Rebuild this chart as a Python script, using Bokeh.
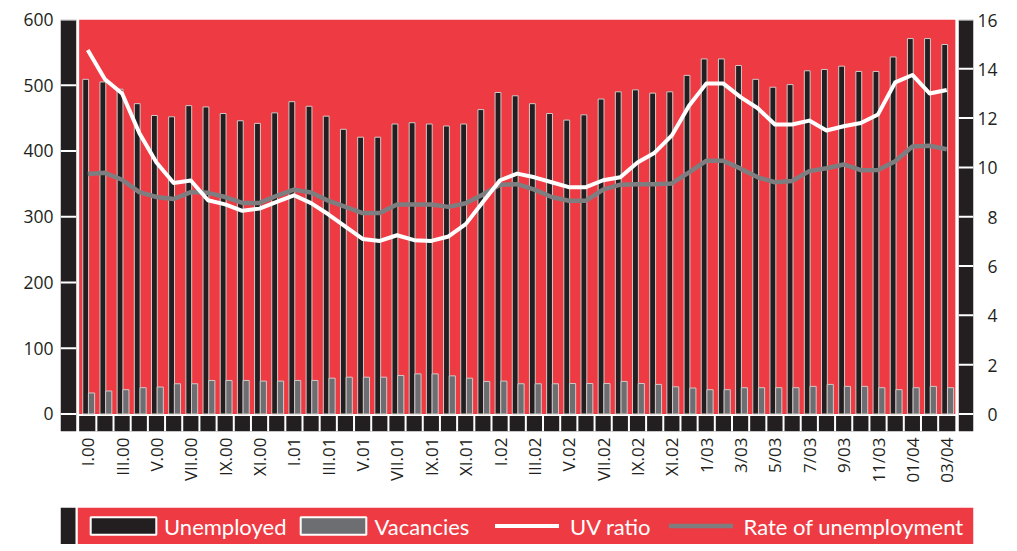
import math
from bokeh.plotting import figure
from bokeh.models import Range1d, LinearAxis, FixedTicker, Legend, LegendItem
from bokeh.layouts import column
from bokeh.embed import file_html
from bokeh.resources import INLINE

# ---------------- data ----------------
months = list(range(51))  # Jan 2000 .. Mar 2004
tick_labels = ["I.00", "III.00", "V.00", "VII.00", "IX.00", "XI.00",
               "I.01", "III.01", "V.01", "VII.01", "IX.01", "XI.01",
               "I.02", "III.02", "V.02", "VII.02", "IX.02", "XI.02",
               "1/03", "3/03", "5/03", "7/03", "9/03", "11/03", "01/04", "03/04"]

unemployed = [509, 505, 494, 472, 454, 452, 469, 467, 457, 446, 442, 458,
              475, 468, 453, 433, 421, 421, 441, 443, 441, 438, 441, 463,
              489, 484, 472, 457, 447, 455, 479, 490, 493, 488, 490, 515,
              540, 540, 530, 509, 497, 501, 522, 524, 529, 521, 521, 543,
              571, 571, 562]
vacancies = [32, 35, 37, 40, 41, 46, 46, 51, 51, 51, 50, 50,
             51, 51, 54.5, 56, 56, 56, 58.6, 61, 61, 58, 54.5, 49.5,
             50, 46, 46, 46, 46.4, 46.4, 46.4, 49.5, 46.4, 45, 41.4, 39.5,
             37, 37, 40, 40, 40, 40, 42, 45, 42, 42, 40, 37,
             40, 42, 40]
uv_ratio = [14.76, 13.58, 13.0, 11.4, 10.2, 9.37, 9.47, 8.67, 8.5, 8.24, 8.33, 8.6,
            8.87, 8.55, 8.1, 7.6, 7.1, 7.02, 7.25, 7.05, 7.02, 7.2, 7.7, 8.6,
            9.48, 9.75, 9.6, 9.4, 9.2, 9.2, 9.48, 9.6, 10.2, 10.6, 11.3, 12.5,
            13.4, 13.4, 12.85, 12.4, 11.74, 11.74, 11.9, 11.5, 11.67, 11.8, 12.15, 13.45,
            13.75, 13.0, 13.14]
rate_unemp = [9.73, 9.78, 9.5, 9.0, 8.8, 8.72, 9.0, 8.97, 8.8, 8.56, 8.56, 8.85,
              9.1, 8.98, 8.65, 8.4, 8.15, 8.15, 8.5, 8.5, 8.5, 8.4, 8.55, 8.9,
              9.3, 9.32, 9.1, 8.8, 8.65, 8.65, 9.1, 9.3, 9.32, 9.32, 9.35, 9.8,
              10.27, 10.27, 9.95, 9.6, 9.4, 9.45, 9.85, 9.97, 10.12, 9.89, 9.9, 10.25,
              10.85, 10.88, 10.74]
left_ticks = [0, 100, 200, 300, 400, 500, 600]
right_ticks = [0, 2, 4, 6, 8, 10, 12, 14, 16]
legend_labels = ["Unemployed", "Vacancies", "UV ratio", "Rate of unemployment"]

# ---------------- style ----------------
RED = "#EE3B43"
DARK = "#231F20"
GRAYBAR = "#6D6E71"
GRAYLINE = "#7E7E80"
EDGE = "#D2C8C8"
FONT = "Open Sans"
LFONT = "Lato"
W = 1017

Y_TOP = 600
Y_BOT = -26.62
X_LO = -1.586
X_HI = 51.557
RATIO = 37.5
LB_R = -0.671     # right edge of left band
RB_L = 50.7       # left edge of right band
BB_T = -3.0       # top of bottom band

p = figure(width=W, height=507, x_range=Range1d(X_LO, X_HI), y_range=Range1d(Y_BOT, Y_TOP),
           toolbar_location=None, output_backend="svg",
           min_border_left=59, min_border_right=28, min_border_top=19, min_border_bottom=76,
           background_fill_color="white", border_fill_color="white")
p.outline_line_color = None
p.grid.visible = False
p.extra_y_ranges = {"rate": Range1d(Y_BOT / RATIO, Y_TOP / RATIO)}

n = len(months)
# frame decoration: red plot area and dark axis bands
p.quad(left=[-0.5], right=[n - 0.5], bottom=[0], top=[Y_TOP], fill_color=RED, line_color=None)
p.quad(left=[X_LO], right=[LB_R], bottom=[Y_BOT], top=[Y_TOP], fill_color=DARK, line_color=None)
p.quad(left=[RB_L], right=[X_HI], bottom=[Y_BOT], top=[Y_TOP], fill_color=DARK, line_color=None)
p.quad(left=[-0.5], right=[n - 0.5], bottom=[Y_BOT], top=[BB_T], fill_color=DARK, line_color=None)

# white tick marks across the bands
p.segment(x0=[X_LO] * len(left_ticks), x1=[LB_R] * len(left_ticks), y0=left_ticks, y1=left_ticks,
          line_color="white", line_width=2)
p.segment(x0=[RB_L] * len(right_ticks), x1=[X_HI] * len(right_ticks), y0=right_ticks, y1=right_ticks,
          line_color="white", line_width=2, y_range_name="rate")
bounds = [m + 0.5 for m in months[:-1]]
p.segment(x0=bounds, x1=bounds, y0=[Y_BOT] * len(bounds), y1=[BB_T] * len(bounds),
          line_color="white", line_width=2)

# bars
p.vbar(x=[m - 0.12 for m in months], width=0.34, bottom=0, top=unemployed,
       fill_color=DARK, line_color=EDGE, line_width=1)
p.vbar(x=[m + 0.22 for m in months], width=0.36, bottom=0, top=vacancies,
       fill_color=GRAYBAR, line_color=EDGE, line_width=1)

# lines
p.line(months, rate_unemp, y_range_name="rate", line_color=GRAYLINE, line_width=4.5, line_join="round")
p.line(months, uv_ratio, y_range_name="rate", line_color="white", line_width=4, line_join="round")

# x axis
xa = p.xaxis[0]
xa.ticker = FixedTicker(ticks=months[::2])
xa.major_label_overrides = {m: lab for m, lab in zip(months[::2], tick_labels)}
xa.major_label_orientation = math.pi / 2
xa.axis_line_color = None
xa.major_tick_line_color = None
xa.minor_tick_line_color = None
xa.major_tick_in = 0
xa.major_tick_out = 0
xa.major_label_standoff = 6
xa.major_label_text_font = FONT
xa.major_label_text_font_size = "17px"
xa.major_label_text_color = DARK

# left axis
ya = p.yaxis[0]
ya.ticker = FixedTicker(ticks=left_ticks)
ya.axis_line_color = None
ya.major_tick_line_color = None
ya.minor_tick_line_color = None
ya.major_tick_in = 0
ya.major_tick_out = 0
ya.major_label_standoff = 7
ya.major_label_text_font = FONT
ya.major_label_text_font_size = "17.5px"
ya.major_label_text_color = DARK

# right axis
ra = LinearAxis(y_range_name="rate", ticker=FixedTicker(ticks=right_ticks))
ra.major_label_overrides = {t: ("\u2007" + str(t) if t < 10 else str(t)) for t in right_ticks}
ra.axis_line_color = None
ra.major_tick_line_color = None
ra.minor_tick_line_color = None
ra.major_tick_in = 0
ra.major_tick_out = 0
ra.major_label_standoff = 4
ra.major_label_text_font = FONT
ra.major_label_text_font_size = "17.5px"
ra.major_label_text_color = DARK
p.add_layout(ra, "right")

# ---------------- legend strip ----------------
LW = 913
lg = figure(width=W, height=37, x_range=Range1d(0, LW), y_range=Range1d(0, 37),
            x_axis_location=None, y_axis_location=None, toolbar_location=None,
            output_backend="svg", min_border_left=60, min_border_right=W - 60 - LW,
            min_border_top=0, min_border_bottom=0,
            background_fill_color="white", border_fill_color="white")
lg.outline_line_color = None
lg.grid.visible = False
lg.quad(left=[0], right=[15], bottom=[0], top=[37], fill_color=DARK, line_color=None)
lg.quad(left=[17.3], right=[LW], bottom=[0], top=[37], fill_color=RED, line_color=None)

# legend proxies (placed outside the visible range)
r_u = lg.quad(left=[-60], right=[-50], bottom=[0], top=[1], fill_color=DARK, line_color="white", line_width=2)
r_v = lg.quad(left=[-60], right=[-50], bottom=[0], top=[1], fill_color=GRAYBAR, line_color="white", line_width=2)
r_uv = lg.line(x=[-60, -50], y=[0, 0], line_color="white", line_width=4, line_cap="round")
r_rt = lg.line(x=[-60, -50], y=[0, 0], line_color=GRAYLINE, line_width=4.5, line_cap="round")

common = dict(orientation="horizontal", location="center_left", padding=0,
              label_text_color="white", label_text_font=LFONT, label_text_font_size="22px",
              background_fill_alpha=0, border_line_color=None)
legA = Legend(items=[LegendItem(label=legend_labels[0], renderers=[r_u]),
                     LegendItem(label=legend_labels[1], renderers=[r_v])],
              margin=22, spacing=6, label_standoff=0, glyph_width=82, glyph_height=22, **common)
legB = Legend(items=[LegendItem(label=legend_labels[2], renderers=[r_uv]),
                     LegendItem(label=legend_labels[3], renderers=[r_rt])],
              margin=435, spacing=18, label_standoff=11, glyph_width=64, glyph_height=22, **common)
lg.add_layout(legA)
lg.add_layout(legB)

layout = column(p, lg, spacing=0)
open("out.html", "w").write(file_html(layout, INLINE))
